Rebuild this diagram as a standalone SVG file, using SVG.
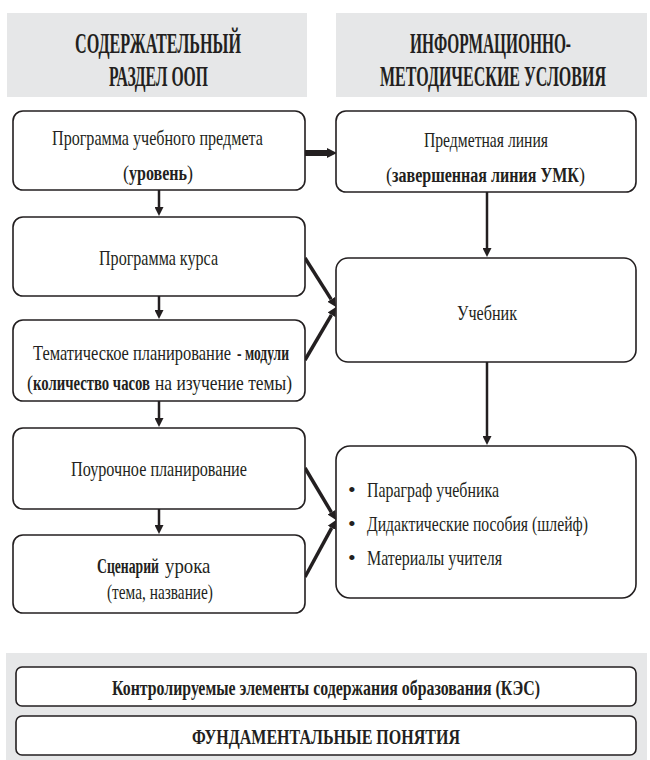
<svg xmlns="http://www.w3.org/2000/svg" width="650" height="760" viewBox="0 0 650 760">
<style>
.hdr{fill:#e6e7e8}
.box{fill:#fff;stroke:#231f20;stroke-width:1.6}
.t{font-family:"Liberation Serif","Times New Roman",serif;font-size:22px;fill:#231f20}
.h{font-family:"Liberation Serif","Times New Roman",serif;font-size:30px;font-weight:bold;fill:#231f20}
.b{font-weight:bold}
.c{stroke:#231f20;fill:none}
</style>
<defs>
<marker id="ah" markerUnits="userSpaceOnUse" viewBox="0 0 10 10" markerWidth="10" markerHeight="9" refX="0" refY="5" orient="auto">
<path d="M0,0 L10,5 L0,10 z" fill="#231f20"/>
</marker>
<marker id="ahd" markerUnits="userSpaceOnUse" viewBox="0 0 10 10" markerWidth="9" markerHeight="10" refX="0" refY="5" orient="auto">
<path d="M0,0 L10,5 L0,10 z" fill="#231f20"/>
</marker>
<marker id="ahb" markerUnits="userSpaceOnUse" viewBox="0 0 10 10" markerWidth="10" markerHeight="14" refX="0" refY="5" orient="auto">
<path d="M0,0 L10,5 L0,10 z" fill="#231f20"/>
</marker>
</defs>

<g id="header-left">
<rect class="hdr" x="7" y="13" width="300" height="84"/>
<text class="h" transform="matrix(0.55 0 0 1 75 53)" textLength="301.8" lengthAdjust="spacingAndGlyphs">СОДЕРЖАТЕЛЬНЫЙ</text>
<text class="h" transform="matrix(0.5 0 0 1 109 86)" textLength="198" lengthAdjust="spacingAndGlyphs">РАЗДЕЛ ООП</text>
</g>
<g id="header-right">
<rect class="hdr" x="336" y="13" width="311" height="84"/>
<text class="h" transform="matrix(0.55 0 0 1 410 53)" textLength="292.7" lengthAdjust="spacingAndGlyphs">ИНФОРМАЦИОННО-</text>
<text class="h" transform="matrix(0.54 0 0 1 380 86)" textLength="418.5" lengthAdjust="spacingAndGlyphs">МЕТОДИЧЕСКИЕ УСЛОВИЯ</text>
</g>

<g id="connectors">
<line class="c" stroke-width="2.5" x1="159" y1="190" x2="159" y2="207" marker-end="url(#ah)"/>
<line class="c" stroke-width="2.5" x1="159" y1="296" x2="159" y2="310" marker-end="url(#ah)"/>
<line class="c" stroke-width="2.5" x1="159" y1="401" x2="159" y2="418" marker-end="url(#ah)"/>
<line class="c" stroke-width="2.5" x1="159" y1="509" x2="159" y2="525" marker-end="url(#ah)"/>
<line class="c" stroke-width="2.5" x1="487" y1="192" x2="487" y2="248" marker-end="url(#ah)"/>
<line class="c" stroke-width="2.5" x1="487" y1="362" x2="487" y2="436" marker-end="url(#ah)"/>
<line class="c" stroke-width="6" x1="305" y1="153" x2="327" y2="153" marker-end="url(#ahb)"/>
<line class="c" stroke-width="3.5" x1="305" y1="258" x2="331.2" y2="299.4" marker-end="url(#ahd)"/>
<line class="c" stroke-width="3.5" x1="305" y1="360" x2="331.5" y2="314.8" marker-end="url(#ahd)"/>
<line class="c" stroke-width="3.5" x1="305" y1="468" x2="331.4" y2="512.3" marker-end="url(#ahd)"/>
<line class="c" stroke-width="3.5" x1="305" y1="577" x2="331.7" y2="527.9" marker-end="url(#ahd)"/>
</g>

<g id="box1">
<rect class="box" x="13" y="111" width="292" height="79" rx="10"/>
<text class="t" transform="matrix(0.72 0 0 1 52 145)" textLength="293" lengthAdjust="spacingAndGlyphs">Программа учебного предмета</text>
<text class="t" transform="matrix(0.8 0 0 1 123 180)" textLength="7.5" lengthAdjust="spacingAndGlyphs">(</text>
<text class="t b" transform="matrix(0.72 0 0 1 129 180)" textLength="80.6" lengthAdjust="spacingAndGlyphs">уровень</text>
<text class="t" transform="matrix(0.8 0 0 1 187 180)" textLength="7.5" lengthAdjust="spacingAndGlyphs">)</text>
</g>
<g id="box2">
<rect class="box" x="13" y="217" width="292" height="79" rx="10"/>
<text class="t" transform="matrix(0.72 0 0 1 99 265)" textLength="165.3" lengthAdjust="spacingAndGlyphs">Программа курса</text>
</g>
<g id="box3">
<rect class="box" x="13" y="320" width="292" height="81" rx="10"/>
<text class="t" transform="matrix(0.72 0 0 1 33 360)" textLength="275" lengthAdjust="spacingAndGlyphs">Тематическое планирование</text>
<text class="t b" transform="matrix(0.72 0 0 1 237 360)" textLength="72.2" lengthAdjust="spacingAndGlyphs">- модули</text>
<text class="t" transform="matrix(0.8 0 0 1 27 390)" textLength="7.5" lengthAdjust="spacingAndGlyphs">(</text>
<text class="t b" transform="matrix(0.72 0 0 1 33 390)" textLength="162.5" lengthAdjust="spacingAndGlyphs">количество часов</text>
<text class="t" transform="matrix(0.72 0 0 1 155 390)" textLength="190.3" lengthAdjust="spacingAndGlyphs">на изучение темы)</text>
</g>
<g id="box4">
<rect class="box" x="13" y="428" width="292" height="81" rx="10"/>
<text class="t" transform="matrix(0.72 0 0 1 71 476)" textLength="244.4" lengthAdjust="spacingAndGlyphs">Поурочное планирование</text>
</g>
<g id="box5">
<rect class="box" x="13" y="535" width="292" height="78" rx="10"/>
<text class="t b" transform="matrix(0.72 0 0 1 97 573)" textLength="86.1" lengthAdjust="spacingAndGlyphs">Сценарий</text>
<text class="t" transform="matrix(0.72 0 0 1 165 573)" textLength="63" lengthAdjust="spacingAndGlyphs">урока</text>
<text class="t" transform="matrix(0.72 0 0 1 107 599)" textLength="147.2" lengthAdjust="spacingAndGlyphs">(тема, название)</text>
</g>

<g id="r1">
<rect class="box" x="336" y="111" width="300" height="81" rx="10"/>
<text class="t" transform="matrix(0.72 0 0 1 424 147)" textLength="172.2" lengthAdjust="spacingAndGlyphs">Предметная линия</text>
<text class="t" transform="matrix(0.8 0 0 1 386 182)" textLength="7.5" lengthAdjust="spacingAndGlyphs">(</text>
<text class="t b" transform="matrix(0.72 0 0 1 392 182)" textLength="259.7" lengthAdjust="spacingAndGlyphs">завершенная линия УМК</text>
<text class="t" transform="matrix(0.8 0 0 1 579 182)" textLength="7.5" lengthAdjust="spacingAndGlyphs">)</text>
</g>
<g id="r2">
<rect class="box" x="336" y="258" width="300" height="104" rx="12"/>
<text class="t" transform="matrix(0.72 0 0 1 457 320)" textLength="83.3" lengthAdjust="spacingAndGlyphs">Учебник</text>
</g>
<g id="r3">
<rect class="box" x="336" y="446" width="300" height="152" rx="14"/>
<text class="t" x="348" y="497" font-size="18">•</text>
<text class="t" x="348" y="531" font-size="18">•</text>
<text class="t" x="348" y="565" font-size="18">•</text>
<text class="t" transform="matrix(0.72 0 0 1 367 497)" textLength="183.3" lengthAdjust="spacingAndGlyphs">Параграф учебника</text>
<text class="t" transform="matrix(0.72 0 0 1 367 531)" textLength="306.9" lengthAdjust="spacingAndGlyphs">Дидактические пособия (шлейф)</text>
<text class="t" transform="matrix(0.72 0 0 1 367 565)" textLength="187.5" lengthAdjust="spacingAndGlyphs">Материалы учителя</text>
</g>

<g id="bottom">
<rect class="hdr" x="6" y="653" width="641" height="107"/>
</g>
<g id="kes">
<rect class="box" x="16" y="667" width="620" height="39" rx="6" stroke-width="2"/>
<text class="t b" transform="matrix(0.73 0 0 1 112 695)" textLength="586.3" lengthAdjust="spacingAndGlyphs">Контролируемые элементы содержания образования (КЭС)</text>
</g>
<g id="fund">
<rect class="box" x="16" y="716" width="620" height="39" rx="6" stroke-width="2"/>
<text class="t b" transform="matrix(0.72 0 0 1 192 744)" textLength="372.2" lengthAdjust="spacingAndGlyphs">ФУНДАМЕНТАЛЬНЫЕ ПОНЯТИЯ</text>
</g>
</svg>
